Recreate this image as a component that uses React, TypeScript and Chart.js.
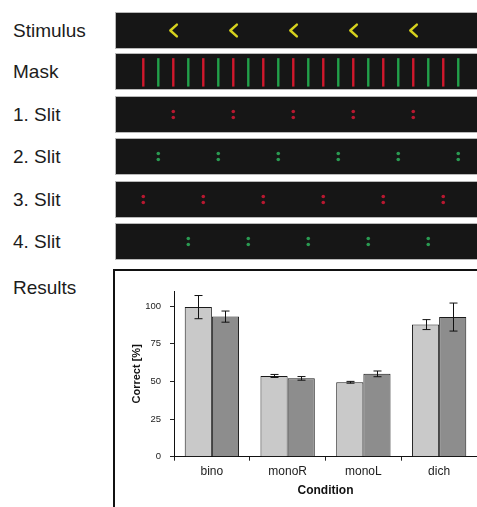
import React, { useEffect, useRef } from 'react';
import { Chart, registerables } from 'chart.js';

Chart.register(...registerables);

const FONT = '"Liberation Sans", Arial, Helvetica, sans-serif';

// ---- top panels (slot index along the display) ----
const rowLabels = ['Stimulus', 'Mask', '1. Slit', '2. Slit', '3. Slit', '4. Slit'];
const stimulusSlots = [2, 6, 10, 14, 18];
const maskRedSlots = [0, 2, 4, 6, 8, 10, 12, 14, 16, 18, 20];
const maskGreenSlots = [1, 3, 5, 7, 9, 11, 13, 15, 17, 19, 21];
const slit1Slots = [2, 6, 10, 14, 18];
const slit2Slots = [1, 5, 9, 13, 17, 21];
const slit3Slots = [0, 4, 8, 12, 16, 20];
const slit4Slots = [3, 7, 11, 15, 19];

// ---- results ----
const conditions = ['bino', 'monoR', 'monoL', 'dich'];
const seriesLight = [99.3, 53.6, 49.4, 87.7];
const errorLight = [7.7, 1.0, 0.6, 3.3];
const seriesDark = [93.0, 52.0, 55.0, 92.7];
const errorDark = [3.7, 1.2, 1.9, 9.3];
const yTickValues = [0, 25, 50, 75, 100];

const YELLOW = '#d6d21e';
const RED = '#d0182c';
const GREEN = '#22a04a';
const DOT_RED = '#b81830';
const DOT_GREEN = '#2a9a52';

const panelTops = [12, 53, 96, 138, 181, 223];
const PANEL_W = 361;
const PANEL_H = 35;

function ChartCanvas({ width, height, config }: { width: number; height: number; config: () => any }) {
  const ref = useRef<HTMLCanvasElement | null>(null);
  useEffect(() => {
    if (!ref.current) return;
    const chart = new Chart(ref.current, config());
    return () => chart.destroy();
  }, []);
  return (
    <canvas
      ref={ref}
      width={width}
      height={height}
      style={{ position: 'absolute', left: 0, top: 0, width, height, display: 'block' }}
    />
  );
}

function panelOptions() {
  return {
    responsive: false,
    animation: false as const,
    events: [],
    layout: { padding: 0, autoPadding: false },
    plugins: { legend: { display: false }, tooltip: { enabled: false } },
    scales: {
      x: { type: 'linear', display: false, min: -1.82, max: 22.25 },
      y: { type: 'linear', display: false, min: 0, max: 1 },
    },
  };
}

function lineMarks(slots: number[], color: string) {
  return {
    type: 'scatter',
    data: slots.map((s) => ({ x: s, y: 0.475 })),
    pointStyle: 'line',
    pointRadius: 14.2,
    pointRotation: 90,
    pointBorderColor: color,
    pointBackgroundColor: color,
    pointBorderWidth: 2.4,
    showLine: false,
    clip: false,
  };
}

function dotMarks(slots: number[], color: string) {
  const data: { x: number; y: number }[] = [];
  slots.forEach((s) => {
    data.push({ x: s, y: 0.585 });
    data.push({ x: s, y: 0.415 });
  });
  return {
    type: 'scatter',
    data,
    pointStyle: 'circle',
    pointRadius: 1.8,
    pointBorderWidth: 0,
    pointBackgroundColor: color,
    showLine: false,
    clip: false,
  };
}

function chevronMarks(slots: number[]) {
  return slots.map((s) => ({
    type: 'scatter',
    data: [
      { x: s + 0.24, y: 0.67 },
      { x: s - 0.2, y: 0.5 },
      { x: s + 0.24, y: 0.33 },
    ],
    showLine: true,
    borderColor: YELLOW,
    borderWidth: 2.4,
    borderJoinStyle: 'round',
    borderCapStyle: 'round',
    pointRadius: 0,
    tension: 0,
    clip: false,
  }));
}

const panelDatasets: (() => any[])[] = [
  () => chevronMarks(stimulusSlots),
  () => [lineMarks(maskRedSlots, RED), lineMarks(maskGreenSlots, GREEN)],
  () => [dotMarks(slit1Slots, DOT_RED)],
  () => [dotMarks(slit2Slots, DOT_GREEN)],
  () => [dotMarks(slit3Slots, DOT_RED)],
  () => [dotMarks(slit4Slots, DOT_GREEN)],
];

const errorBarPlugin = {
  id: 'errorBars',
  afterDatasetsDraw(chart: any) {
    const ctx = chart.ctx;
    const yScale = chart.scales.y;
    ctx.save();
    ctx.strokeStyle = '#111';
    ctx.lineWidth = 1;
    chart.data.datasets.forEach((ds: any, di: number) => {
      const meta = chart.getDatasetMeta(di);
      meta.data.forEach((bar: any, i: number) => {
        const v = ds.data[i];
        const e = ds.errors[i];
        const x = Math.round(bar.x) + 0.5;
        const yt = yScale.getPixelForValue(v + e);
        const yb = yScale.getPixelForValue(v - e);
        ctx.beginPath();
        ctx.moveTo(x, yt);
        ctx.lineTo(x, yb);
        ctx.moveTo(x - 4, yt);
        ctx.lineTo(x + 4, yt);
        ctx.moveTo(x - 4, yb);
        ctx.lineTo(x + 4, yb);
        ctx.stroke();
      });
    });
    ctx.restore();
  },
};

function resultsConfig() {
  return {
    type: 'bar',
    data: {
      labels: conditions,
      datasets: [
        {
          data: seriesLight,
          errors: errorLight,
          backgroundColor: '#c9c9c9',
          borderColor: '#1a1a1a',
          borderWidth: 1,
          categoryPercentage: 0.717,
          barPercentage: 1,
        },
        {
          data: seriesDark,
          errors: errorDark,
          backgroundColor: '#8d8d8d',
          borderColor: '#1a1a1a',
          borderWidth: 1,
          categoryPercentage: 0.717,
          barPercentage: 1,
        },
      ],
    },
    options: {
      responsive: false,
      animation: false,
      events: [],
      layout: { padding: { top: 20, left: 0, right: 0, bottom: 0 } },
      plugins: { legend: { display: false }, tooltip: { enabled: false } },
      scales: {
        x: {
          grid: { display: true, drawOnChartArea: false, drawTicks: true, tickLength: 4, color: '#222', offset: true },
          border: { display: true, color: '#111', width: 1 },
          ticks: { color: '#222', padding: 4, font: { family: FONT, size: 12 } },
          title: {
            display: true,
            text: 'Condition',
            color: '#111',
            font: { family: FONT, size: 12, weight: 'bold' },
            padding: { top: 0, bottom: 9 },
          },
          afterFit: (s: any) => {
            s.height = 50.3;
          },
        },
        y: {
          min: 0,
          max: 110,
          grid: { display: true, drawOnChartArea: false, drawTicks: true, tickLength: 4, color: '#222' },
          border: { display: true, color: '#111', width: 1 },
          ticks: { color: '#222', padding: 9, stepSize: 25, font: { family: FONT, size: 9.5 } },
          afterBuildTicks: (s: any) => {
            s.ticks = yTickValues.map((v) => ({ value: v }));
          },
          title: {
            display: true,
            text: 'Correct [%]',
            color: '#111',
            font: { family: FONT, size: 11, weight: 'bold' },
            padding: { top: 15, bottom: 0 },
          },
          afterFit: (s: any) => {
            s.width = 59;
          },
        },
      },
    },
    plugins: [errorBarPlugin],
  };
}

const labelStyle: React.CSSProperties = {
  position: 'absolute',
  left: 13,
  height: 37,
  lineHeight: '37px',
  fontFamily: FONT,
  fontSize: 19,
  color: '#1c1c1c',
  whiteSpace: 'nowrap',
};

export default function App() {
  return (
    <div
      style={{
        position: 'absolute',
        left: 0,
        top: 0,
        width: 477,
        height: 507,
        overflow: 'hidden',
        background: '#fff',
      }}
    >
      {rowLabels.map((lab, i) => (
        <div key={lab} style={{ ...labelStyle, top: panelTops[i] }}>
          {lab}
        </div>
      ))}
      <div style={{ ...labelStyle, top: 269 }}>Results</div>

      {panelTops.map((t, i) => (
        <div
          key={i}
          style={{
            position: 'absolute',
            left: 115,
            top: t,
            width: 380,
            height: 37,
            boxSizing: 'border-box',
            border: '1px solid #b8b8b8',
            background: '#161616',
          }}
        >
          <ChartCanvas
            width={PANEL_W}
            height={PANEL_H}
            config={() => ({ type: 'scatter', data: { datasets: panelDatasets[i]() }, options: panelOptions() })}
          />
        </div>
      ))}

      <div
        style={{
          position: 'absolute',
          left: 113,
          top: 269,
          width: 400,
          height: 300,
          boxSizing: 'border-box',
          border: '2px solid #111',
          background: '#fff',
        }}
      >
        <ChartCanvas width={362} height={236} config={resultsConfig} />
      </div>
    </div>
  );
}
